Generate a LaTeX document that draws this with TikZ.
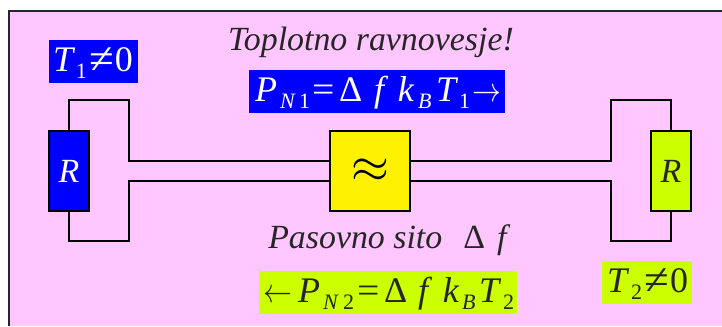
\documentclass[tikz,border=0pt]{standalone}
\usepackage{fontspec}
\setmainfont{Liberation Serif}
\definecolor{pinkbg}{RGB}{255,198,255}
\definecolor{lime}{RGB}{204,255,0}
\definecolor{pureblue}{RGB}{0,0,255}
\newdimen\pxu \pxu=0.75pt
% one glyph in a cell #1 px wide, so the glyphs of a label keep the reference's spacing
\newcommand{\cell}[2]{\makebox[#1\pxu][l]{#2}}
\newcommand{\lead}[1]{\hspace*{#1\pxu}}
\newcommand{\lowered}[1]{\raisebox{-5.25pt}{\fontsize{16.5}{18}\selectfont #1}}
\newcommand{\mathsym}[3]{\scalebox{#1}[#2]{\fontsize{10}{12}\selectfont$#3$}}
\newcommand{\neqsym}{\raisebox{-1.5pt}{\scalebox{1.25}[1.2]{≠}}}
\newcommand{\eqsym}{\scalebox{1.1}[1]{=}}
\newcommand{\rarrow}{\mathsym{2.16}{2.54}{\rightarrow}}
\newcommand{\larrow}{\mathsym{2.16}{2.54}{\leftarrow}}
\tikzset{
  labelbox/.style={inner sep=0pt,text height=23.25pt,text depth=9pt,font=\fontsize{27}{30}\selectfont},
  bluebox/.style={labelbox,fill=pureblue,text=white},
  limebox/.style={labelbox,fill=lime,text=black!85},
  part/.style={draw=black,line width=1.5pt,inner sep=0pt,minimum width=30pt,minimum height=60pt,font=\fontsize{25.4}{28}\selectfont\itshape},
  resistor/.style={part,text height=38.25pt,text depth=21.75pt},
  wire/.style={draw=black,line width=1.3pt,line join=miter},
  caption/.style={inner sep=0pt,font=\fontsize{25.4}{28}\selectfont\itshape,text=black!85}
}
\begin{document}
\begin{tikzpicture}[x=0.75pt,y=-0.75pt]
\useasboundingbox (0,0) rectangle (722,326);
\fill[pinkbg] (8.5,10.5) rectangle (722,326);
\draw[black!85,line width=1.5pt] (8.5,326) -- (8.5,10.5) -- (722,10.5);

\node[resistor,fill=pureblue,text=white] (RL) at (69,171) {R};
\node[part,fill=yellow,minimum width=60pt] (F) at (370,171) {\mathsym{3.65}{3.65}{\approx}};
\node[resistor,fill=lime,text=black!85] (RR) at (671,171) {R};

\coordinate (a1) at (129,100);
\coordinate (a2) at (129,241);
\coordinate (a3) at (611,100);
\coordinate (a4) at (611,241);
\coordinate (f1) at ([yshift=7.5pt]F.west);
\coordinate (f2) at ([yshift=-7.5pt]F.west);
\coordinate (f3) at ([yshift=7.5pt]F.east);
\coordinate (f4) at ([yshift=-7.5pt]F.east);
\draw[wire] (RL.north) |- (a1) |- (f1);
\draw[wire] (RL.south) |- (a2) |- (f2);
\draw[wire] (RR.north) |- (a3) |- (f3);
\draw[wire] (RR.south) |- (a4) |- (f4);

\node[caption,anchor=base] (title) at (371,50) {Toplotno ravnovesje!};
\node[caption,anchor=base west] (band) at (268,248) {Pasovno sito\hspace{15.75pt}\upshape Δ\hspace{9pt}\itshape f};

\node[bluebox] (T1) at (93.5,61.5) {\lead{4}\cell{23}{\textit{T}}\cell{14}{\lowered{1}}\cell{25}{\neqsym}\cell{23}{0}};
\node[bluebox] (P1) at (377,91.5) {\lead{6}\cell{25}{\textit{P}}\cell{19}{\lowered{\textit{N}}}\cell{13}{\lowered{1}}\cell{27}{\eqsym}\cell{35}{Δ}\cell{24}{\textit{f}}\cell{20}{\textit{k}}\cell{18}{\lowered{\textit{B}}}\cell{23}{\textit{T}}\cell{13}{\lowered{1}}\cell{33}{\rarrow}};
\node[limebox] (P2) at (388,292.5) {\lead{4}\cell{35}{\larrow}\cell{25}{\textit{P}}\cell{20}{\lowered{\textit{N}}}\cell{14}{\lowered{2}}\cell{27}{\eqsym}\cell{34}{Δ}\cell{25}{\textit{f}}\cell{19}{\textit{k}}\cell{17}{\lowered{\textit{B}}}\cell{24}{\textit{T}}\cell{14}{\lowered{2}}};
\node[limebox] (T2) at (647,282.5) {\lead{5}\cell{24}{\textit{T}}\cell{13}{\lowered{2}}\cell{26}{\neqsym}\cell{22}{0}};
\end{tikzpicture}
\end{document}
